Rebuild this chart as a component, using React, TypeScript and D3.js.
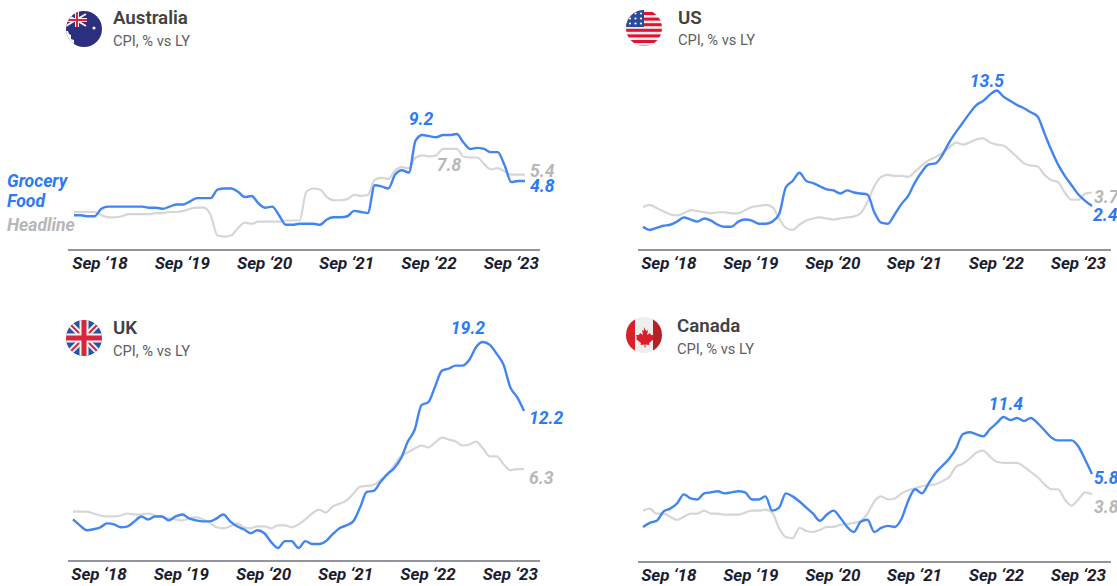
import React from "react";
import * as d3lib from "d3";

const W = 1117, H = 586;

const tickLabels = ["Sep ‘18", "Sep ‘19", "Sep ‘20", "Sep ‘21", "Sep ‘22", "Sep ‘23"];
const tickMonths = [3.8, 15.85, 27.9, 39.9, 51.95, 64];

const auGrocery = [1.6,1.6,1.5,1.5,2.2,2.4,2.4,2.4,2.4,2.4,2.4,2.3,2.3,2.2,2.4,2.6,2.6,2.9,3.2,3.2,3.2,4.0,4.1,4.1,3.8,3.3,3.4,2.7,2.3,2.4,1.6,0.7,0.7,0.8,0.8,0.8,0.7,1.2,1.4,1.4,1.5,2.0,1.9,1.8,4.4,4.3,4.1,5.4,5.8,5.6,8.6,9.1,9.0,8.9,9.1,9.1,9.2,8.4,7.8,7.9,7.8,7.5,7.5,6.3,4.7,4.8,4.8];
const auHeadline = [1.9,1.9,1.9,1.9,1.6,1.4,1.4,1.5,1.7,1.7,1.7,1.7,1.8,1.8,1.9,1.9,2.0,2.2,2.3,2.3,1.6,-0.3,-0.4,-0.3,0.4,0.9,0.8,1.0,1.0,1.0,1.0,1.1,1.1,1.1,3.8,4.1,4.0,3.3,3.0,3.0,3.1,3.5,3.4,3.5,4.9,5.1,5.0,5.8,6.1,6.0,7.0,7.2,7.1,7.2,7.8,7.8,7.8,7.1,7.0,7.0,6.4,5.9,6.0,5.7,5.4,5.4,5.4];
const usGrocery = [0.4,0.1,0.3,0.5,0.6,0.9,1.3,1.1,0.9,1.2,1.0,0.6,0.4,0.4,0.9,1.1,1.0,0.7,0.7,0.9,1.6,4.2,4.8,5.6,4.8,4.6,4.3,4.0,3.9,3.6,3.9,3.7,3.6,3.5,1.8,0.8,0.7,1.6,2.6,3.4,4.7,5.7,6.4,6.5,7.3,8.5,9.5,10.4,11.3,12.1,12.5,13.1,13.5,12.9,12.5,12.1,11.8,11.4,11.0,9.4,7.8,6.4,5.3,4.4,3.5,2.9,2.4];
const usHeadline = [2.3,2.5,2.2,1.9,1.6,1.5,1.7,2.0,1.9,1.8,1.7,1.8,1.8,1.7,1.7,2.0,2.3,2.4,2.5,2.3,1.2,0.3,0.1,0.6,1.0,1.2,1.3,1.2,1.1,1.2,1.3,1.4,1.7,2.8,4.3,5.2,5.4,5.3,5.3,5.2,5.7,6.3,6.8,7.1,7.5,8.0,8.5,8.3,8.5,8.8,8.9,8.5,8.3,8.2,7.7,7.1,6.5,6.3,6.2,5.4,4.9,4.7,3.7,3.0,3.0,3.6,3.7];
const ukGrocery = [1.2,0.6,0.1,0.2,0.4,0.8,0.7,0.4,0.5,1.0,1.5,1.2,1.5,1.5,1.1,1.5,1.7,1.3,1.1,1.0,1.0,1.3,1.7,1.0,0.5,0.2,-0.2,0.1,-0.2,-1.1,-1.7,-1.0,-1.0,-1.7,-1.0,-1.3,-1.3,-1.0,-0.3,0.3,0.6,1.0,2.4,4.0,4.1,5.0,5.8,6.4,7.4,9.1,10.3,12.8,13.1,14.7,16.3,16.5,16.8,16.8,17.4,18.7,19.2,18.9,18.0,16.9,14.6,13.6,12.2];
const ukHeadline = [2.0,2.0,2.0,1.8,1.6,1.5,1.5,1.6,1.8,1.7,1.7,1.8,1.6,1.5,1.3,1.2,1.1,1.3,1.4,1.2,0.9,0.4,0.3,0.5,0.8,0.4,0.3,0.5,0.5,0.3,0.6,0.6,0.4,0.7,1.2,1.8,2.2,1.9,2.5,2.8,3.1,3.8,4.5,4.6,4.7,5.2,5.7,6.7,7.6,8.0,8.4,8.7,8.5,9.0,9.5,9.3,9.1,8.7,8.8,9.1,8.4,7.6,7.6,6.8,6.2,6.3,6.3];
const caGrocery = [0.6,1.0,1.2,2.1,2.4,2.9,3.8,3.4,3.3,3.9,4.0,4.1,3.9,4.0,4.1,4.0,3.3,3.3,3.6,2.2,2.5,3.9,3.6,3.1,2.5,1.9,1.2,1.8,2.2,1.5,0.6,0.1,1.1,1.3,0.1,0.5,0.7,0.6,1.4,3.2,4.3,3.9,4.9,5.9,6.6,7.3,8.3,9.7,9.9,9.7,9.5,10.2,10.8,11.4,11.1,11.3,11.0,11.3,10.8,10.1,9.4,9.1,9.1,9.1,8.5,7.2,5.8];
const caHeadline = [2.2,2.4,1.9,1.9,1.6,1.3,1.6,1.9,1.9,2.2,1.9,1.9,1.8,1.8,1.8,2.0,2.2,2.2,2.3,2.0,0.5,-0.4,-0.5,0.5,0.2,0.1,0.3,0.6,0.6,0.8,0.9,1.0,1.2,1.9,3.1,3.6,3.3,3.4,3.9,4.2,4.4,4.6,4.7,4.8,5.1,5.5,6.5,6.8,7.3,7.9,8.1,7.5,7.0,6.9,6.9,6.9,6.5,6.0,5.5,4.8,4.3,4.3,3.3,2.7,3.3,4.0,3.8];

const BLUE_LINE = "#4285f0";
const BLUE_TEXT = "#2a7af3";
const GREY_LINE = "#d6d6d6";
const GREY_TEXT = "#b7b7b7";
const INK = "#1c1c30";

type Lab = { t: string; x: number; y: number; c: string; a?: string };
type Panel = {
  name: string; grocery: number[]; headline: number[];
  xr: [number, number]; axis: [number, number, number];
  dom: [number, number]; rng: [number, number];
  title: [number, number]; sub: number;
  flag: [number, number, string]; labels: Lab[];
};

const panels: Panel[] = [
  { name: "Australia", grocery: auGrocery, headline: auHeadline, xr: [74, 525], axis: [68, 540, 250], dom: [4.8, 9.2], rng: [181, 134], title: [113, 24], sub: 46, flag: [84, 29, "au"],
    labels: [
      { t: "9.2", x: 421, y: 125, c: BLUE_TEXT, a: "middle" },
      { t: "7.8", x: 449, y: 171, c: GREY_TEXT, a: "middle" },
      { t: "5.4", x: 530, y: 177, c: GREY_TEXT },
      { t: "4.8", x: 530, y: 192, c: BLUE_TEXT },
      { t: "Grocery", x: 7, y: 187, c: BLUE_TEXT },
      { t: "Food", x: 7, y: 207, c: BLUE_TEXT },
      { t: "Headline", x: 7, y: 231, c: GREY_TEXT },
    ] },
  { name: "US", grocery: usGrocery, headline: usHeadline, xr: [643, 1092], axis: [638, 1111, 250], dom: [2.4, 13.5], rng: [206, 90.5], title: [678, 24], sub: 45, flag: [644, 28, "us"],
    labels: [
      { t: "13.5", x: 987, y: 87, c: BLUE_TEXT, a: "middle" },
      { t: "3.7", x: 1094, y: 203, c: GREY_TEXT },
      { t: "2.4", x: 1093, y: 221, c: BLUE_TEXT },
    ] },
  { name: "UK", grocery: ukGrocery, headline: ukHeadline, xr: [73, 524], axis: [68, 540, 561], dom: [12.2, 19.2], rng: [411, 342], title: [113, 334], sub: 356, flag: [84, 338, "uk"],
    labels: [
      { t: "19.2", x: 468, y: 334, c: BLUE_TEXT, a: "middle" },
      { t: "12.2", x: 529, y: 424, c: BLUE_TEXT },
      { t: "6.3", x: 529, y: 484, c: GREY_TEXT },
    ] },
  { name: "Canada", grocery: caGrocery, headline: caHeadline, xr: [643, 1092], axis: [638, 1111, 562], dom: [5.8, 11.4], rng: [474, 417], title: [677, 332], sub: 354, flag: [644, 335, "ca"],
    labels: [
      { t: "11.4", x: 1006, y: 410, c: BLUE_TEXT, a: "middle" },
      { t: "5.8", x: 1094, y: 484, c: BLUE_TEXT },
      { t: "3.8", x: 1094, y: 513, c: GREY_TEXT },
    ] },
];

function Flag({ cx, cy, kind }: { cx: number; cy: number; kind: string }) {
  const r = 18;
  const id = "clip-" + kind;
  const x = cx - r, y = cy - r, s = 2 * r;
  let body: React.ReactNode = null;
  if (kind === "au") {
    body = (
      <g>
        <rect x={x} y={y} width={s} height={s} fill="#2b2f7e" />
        <path d={`M${x} ${y + 3}L${x + 20} ${y + 15}M${x} ${y + 15}L${x + 20} ${y + 3}`} stroke="#f2f2f2" strokeWidth={2} />
        <path d={`M${x + 11} ${y}V${y + 16}M${x} ${y + 9}H${x + 21}`} stroke="#f2f2f2" strokeWidth={4} />
        <path d={`M${x + 11} ${y}V${y + 16}M${x} ${y + 9}H${x + 21}`} stroke="#e4203a" strokeWidth={2} />
        <circle cx={cx + 10} cy={cy - 1} r={1.6} fill="#eee" />
        <path d={`M${x} ${y + 20}h2l1 3 2 1v4l3 1v7h-8z`} fill="#fff" />
      </g>
    );
  } else if (kind === "us") {
    const rows = d3lib.range(7);
    body = (
      <g>
        <rect x={x} y={y} width={s} height={s} fill="#eeeeee" />
        {rows.map((i) => (
          <rect key={i} x={x} y={y + 2 + i * 5.6} width={s} height={3} fill="#e3122e" />
        ))}
        <rect x={x} y={y} width={18} height={17} fill="#2d4a9a" />
        {d3lib.range(9).map((i) => (
          <circle key={i} cx={x + 4 + (i % 3) * 5.5} cy={y + 3.5 + Math.floor(i / 3) * 5} r={1.1} fill="#fff" />
        ))}
      </g>
    );
  } else if (kind === "uk") {
    body = (
      <g>
        <rect x={x} y={y} width={s} height={s} fill="#2456a8" />
        <path d={`M${x} ${y}L${x + s} ${y + s}M${x + s} ${y}L${x} ${y + s}`} stroke="#f2f2f2" strokeWidth={6} />
        <path d={`M${x} ${y}L${x + s} ${y + s}M${x + s} ${y}L${x} ${y + s}`} stroke="#d8253c" strokeWidth={2} />
        <path d={`M${cx} ${y}V${y + s}M${x} ${cy}H${x + s}`} stroke="#f2f2f2" strokeWidth={9} />
        <path d={`M${cx} ${y}V${y + s}M${x} ${cy}H${x + s}`} stroke="#d8253c" strokeWidth={5} />
      </g>
    );
  } else {
    body = (
      <g>
        <rect x={x} y={y} width={s} height={s} fill="#eeeeee" />
        <rect x={x} y={y} width={9} height={s} fill="#d9202a" />
        <rect x={x + s - 9} y={y} width={9} height={s} fill="#b81f26" />
        <path d={`M${cx} ${cy - 8}l2 4 2-1-1 5 3-2 1 2 3 0-1 3 1 1-5 4 .5 2-4-.6v3h-1v-3l-4 .6.5-2-5-4 1-1-1-3 3 0 1-2 3 2-1-5 2 1z`} fill="#d9202a" />
      </g>
    );
  }
  return (
    <g>
      <clipPath id={id}><circle cx={cx} cy={cy} r={r} /></clipPath>
      <g clipPath={`url(#${id})`}>{body}</g>
    </g>
  );
}

function PanelView({ p }: { p: Panel }) {
  const x = d3lib.scaleLinear().domain([0, 66]).range(p.xr);
  const y = d3lib.scaleLinear().domain(p.dom).range(p.rng);
  const line = d3lib.line<number>().x((_, i) => x(i)).y((v) => y(v)).curve(d3lib.curveMonotoneX);
  return (
    <g>
      <Flag cx={p.flag[0]} cy={p.flag[1]} kind={p.flag[2]} />
      <text x={p.title[0]} y={p.title[1]} fontSize={18.7} fontWeight={600} fill="#414141">{p.name}</text>
      <text x={p.title[0]} y={p.sub} fontSize={14.7} fill="#5c6066">CPI, % vs LY</text>
      <line x1={p.axis[0]} x2={p.axis[1]} y1={p.axis[2]} y2={p.axis[2]} stroke="#70707e" strokeWidth={1.4} />
      {tickMonths.map((m, i) => (
        <text key={m} x={x(m)} y={p.axis[2] + 19} textAnchor="middle" fontSize={17} fontWeight={700} fontStyle="italic" fill={INK}>{tickLabels[i]}</text>
      ))}
      <path d={line(p.headline) ?? ""} fill="none" stroke={GREY_LINE} strokeWidth={2.2} strokeLinejoin="round" />
      <path d={line(p.grocery) ?? ""} fill="none" stroke={BLUE_LINE} strokeWidth={2.4} strokeLinejoin="round" />
      {p.labels.map((l) => (
        <text key={l.t} x={l.x} y={l.y} textAnchor={l.a ?? "start"} fontSize={17.6} fontWeight={700} fontStyle="italic" fill={l.c}>{l.t}</text>
      ))}
    </g>
  );
}

export default function App() {
  return (
    <svg width={W} height={H} viewBox={`0 0 ${W} ${H}`} style={{ position: "absolute", left: 0, top: 0, background: "#fff", fontFamily: "Roboto, sans-serif" }}>
      {panels.map((p) => <PanelView key={p.name} p={p} />)}
    </svg>
  );
}
